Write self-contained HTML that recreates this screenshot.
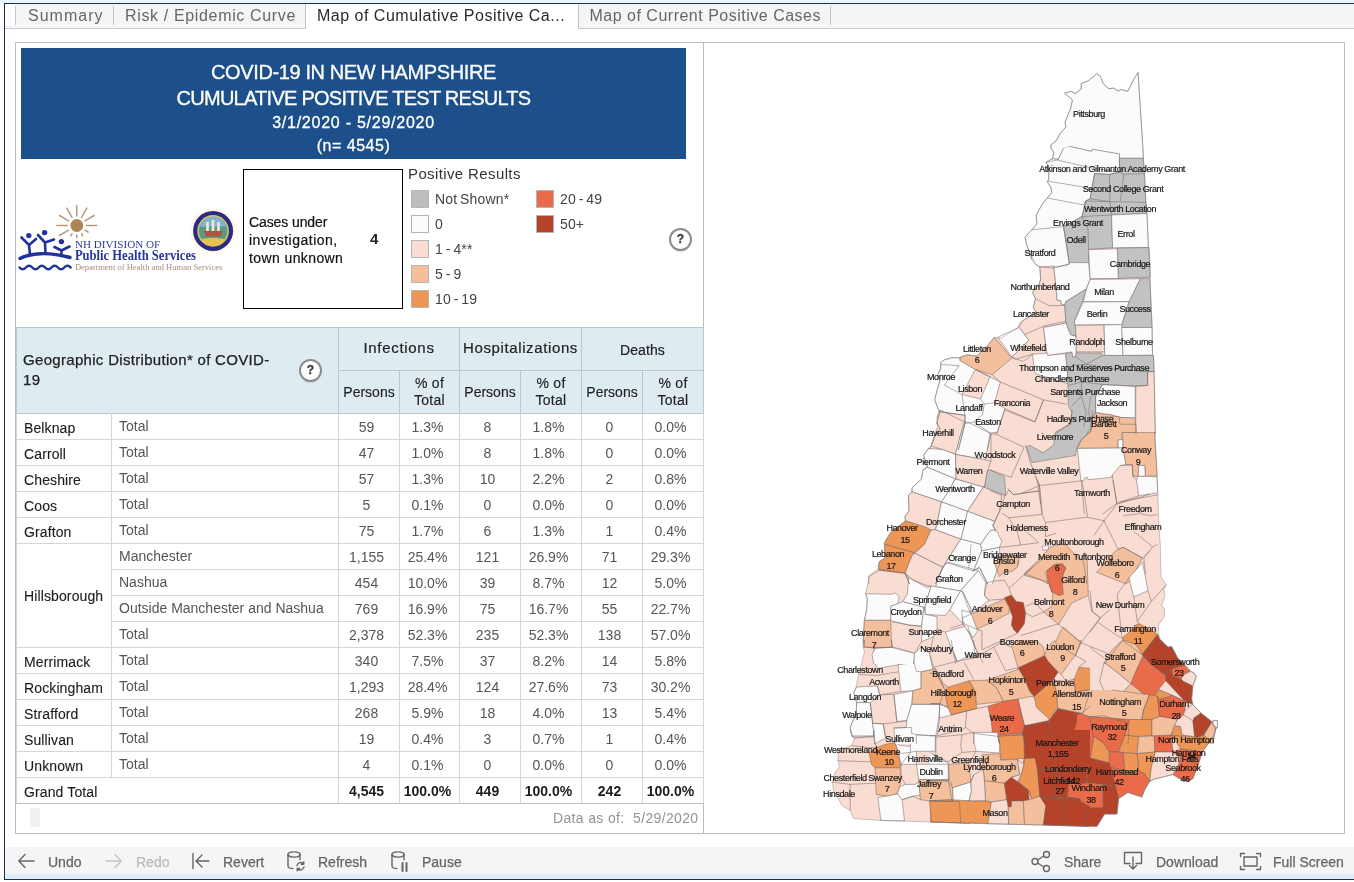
<!DOCTYPE html>
<html lang="en">
<head>
<meta charset="utf-8">
<title>COVID-19 in New Hampshire - Map of Cumulative Positive Cases</title>
<style>
*{box-sizing:border-box;margin:0;padding:0}
html,body{width:1354px;height:882px;overflow:hidden;background:#fff}
body{will-change:transform;font-family:"Liberation Sans",sans-serif;color:#333;position:relative}
.abs{position:absolute}
/* outer frame */
#frame{left:4px;top:3px;width:1360px;height:877px;border:1px solid #1f2e4f;border-right:none;background:#fff}
#topglow{left:0;top:0;width:1354px;height:3px;background:#e9f4fb}
#botglow{left:5px;top:874px;width:1349px;height:5px;background:#dbeefa}
/* tabs */
#tabbar{left:15px;top:4px;width:1339px;height:21px;background:linear-gradient(#eef4fb 0,#f5f5f5 5px)}
#tabline{left:5px;top:28px;width:1349px;height:1px;background:#c6c6c6}
#tabline2{left:5px;top:26px;width:1349px;height:1px;background:#ececec}
.tab{top:6px;height:19px;border-right:1px solid #c4c4c4;color:#666;font-size:16px;line-height:20px;white-space:nowrap}
.tab.first{border-left:1px solid #c4c4c4}
.tab.active{background:#fff;color:#2a2a2a;top:4px;height:25px;line-height:24px;border-left:1px solid #c4c4c4}
.tab span{position:absolute;top:0}
/* panels */
#leftpanel{left:15px;top:42px;width:689px;height:792px;border:1px solid #bdbdbd;background:#fff}
#mappanel{left:703px;top:42px;width:642px;height:792px;border:1px solid #bdbdbd;background:#fff}
#hdr{left:21px;top:48px;width:665px;height:111px;background:#1d4f8b;color:#fff;text-align:center;white-space:nowrap;-webkit-text-stroke:.3px #fff}
#hdr div{position:absolute;left:0;width:665px}
/* toolbar */
#toolbar{left:5px;top:847px;width:1349px;height:27px;background:#f5f5f5}
.tb{top:854px;font-size:14px;line-height:17px;color:#666;white-space:nowrap;letter-spacing:0;-webkit-text-stroke:.25px #666}
.tb.dim{color:#b9b9b9;-webkit-text-stroke:.25px #b9b9b9}
/* table */
#tbl{left:16px;top:327px;width:687px;height:477px}
.hcell{background:#deebf1;border:1px solid #b9c9d2;color:#222;text-align:center;white-space:nowrap}
.vline{width:1px;background:#d6d6d6}
.hline{height:1px;background:#d6d6d6}
.c{font-size:14px;line-height:16px;white-space:nowrap;color:#555;letter-spacing:0}
.c.k{color:#1c1c1c;-webkit-text-stroke:.12px #1c1c1c;letter-spacing:.12px}
.c.n{text-align:center;width:61px}
.c.b{color:#1c1c1c;font-weight:bold;letter-spacing:0}
.q{width:23px;height:23px;border:2px solid #8c8c8c;border-radius:50%;background:#fff;color:#3c3c3c;font-size:12px;font-weight:bold;line-height:19px;text-align:center;-webkit-text-stroke:.3px #3c3c3c;box-shadow:0 3px 2px -2px rgba(0,0,0,.12)}
.sw{width:18px;height:18px;border:1px solid #b5b5b5}
.lg{font-size:14px;line-height:16px;color:#444;white-space:nowrap;letter-spacing:.15px;word-spacing:-1.2px}
</style>
</head>
<body>
<div id="topglow" class="abs"></div>
<div id="frame" class="abs"></div>
<div id="botglow" class="abs"></div>

<!-- TABS -->
<div id="tabbar" class="abs"></div><div id="tabline2" class="abs"></div><div id="tabline" class="abs"></div>
<div class="abs tab first" style="left:15px;width:99px"><span style="left:12px;letter-spacing:1px">Summary</span></div>
<div class="abs tab" style="left:114px;width:192px"><span style="left:11px;letter-spacing:.65px">Risk / Epidemic Curve</span></div>
<div class="abs tab active" style="left:305px;width:274px"><span style="left:11px;letter-spacing:.5px">Map of Cumulative Positive Ca...</span></div>
<div class="abs tab" style="left:579px;width:252px"><span style="left:10.5px;letter-spacing:.5px">Map of Current Positive Cases</span></div>

<!-- PANELS -->
<div id="leftpanel" class="abs"></div>
<div id="mappanel" class="abs"></div>

<!-- HEADER -->
<div id="hdr" class="abs">
  <div style="top:12px;font-size:20px;line-height:24px;letter-spacing:-.38px">COVID-19 IN NEW HAMPSHIRE</div>
  <div style="top:38px;font-size:20px;line-height:24px;letter-spacing:-.74px">CUMULATIVE POSITIVE TEST RESULTS</div>
  <div style="top:65px;font-size:16px;line-height:20px;letter-spacing:.75px">3/1/2020 - 5/29/2020</div>
  <div style="top:88px;font-size:16px;line-height:20px;letter-spacing:.5px">(n= 4545)</div>
</div>

<!--LOGO-->
<svg class="abs" style="left:0;top:0" width="260" height="320" viewBox="0 0 260 320">
<g stroke="#b99a78" stroke-width="1.5" stroke-linecap="round"><path d="M86.3 225.5L96.8 225.5M85.0 220.8L94.1 215.5M81.5 217.3L86.8 208.2M76.8 216.0L76.8 205.5M72.0 217.3L66.8 208.2M68.6 220.8L59.5 215.5M67.3 225.5L56.8 225.5M68.6 230.2L59.5 235.5M72.0 233.7L70.8 235.9M76.8 235.0L76.8 237.5M81.5 233.7L82.8 235.9M85.0 230.2L88.1 232.0"/></g>
<circle cx="76.8" cy="225.5" r="6.4" fill="#ad8456"/>
<g fill="#22339a" stroke="none"><circle cx="28.8" cy="235.6" r="2.7"/><circle cx="44.6" cy="232.6" r="2.7"/><circle cx="61.4" cy="241.6" r="2.7"/></g>
<g fill="none" stroke="#22339a" stroke-width="2.6" stroke-linecap="round" stroke-linejoin="round">
<path d="M21.5 237.5L29 245L36 239M29 245L30 255"/>
<path d="M38 235L45 242.5L54 239.5M45 242.5L45.5 253"/>
<path d="M54.5 247L61.5 250.5L69.5 246.5M61.5 250.5L61.2 256"/>
<path d="M20 258.5C30 253 48 251.5 70 257.5" stroke-width="3.4"/>
<path d="M19.5 267.5q3.2 3.6 6.4 0t6.4 0t6.4 0t6.4 0t6.4 0t6.4 0t6.4 0t6.4 0" stroke-width="2.4"/>
</g>
<g font-family="Liberation Serif, serif">
<text x="74.9" y="247.6" font-size="10.5" fill="#2c3b9c" textLength="85.4" lengthAdjust="spacingAndGlyphs">NH DIVISION OF</text>
<text x="74.9" y="260" font-size="14" font-weight="bold" fill="#27379a" textLength="121" lengthAdjust="spacingAndGlyphs">Public Health Services</text>
<text x="74.9" y="270.4" font-size="7.5" fill="#ad8b78" textLength="147.5" lengthAdjust="spacingAndGlyphs">Department of Health and Human Services</text>
</g>
<circle cx="213.1" cy="230.9" r="22.5" fill="#fff8e4"/>
<circle cx="213.1" cy="230.9" r="20" fill="#2b2a86"/>
<circle cx="213.1" cy="230.9" r="15.8" fill="#d8c36a"/>
<circle cx="213.1" cy="230.9" r="14.2" fill="#5a9b86"/>
<path d="M199.5 226.5a14.2 14.2 0 0 1 27.2 0z" fill="#7fb6c9"/>
<path d="M203.5 231h19.5l-2.5 5.5h-14z" fill="#b5523a"/>
<path d="M207.5 222v9M213 220v11M218.5 222v9" stroke="#f1eadb" stroke-width="2.6" fill="none"/>
<path d="M201 239.5c4-2 20-2 24.2 0a14.2 14.2 0 0 1-24.2 0z" fill="#e6c34f"/>
</svg>
<!--/LOGO-->
<!--CASEBOX-->
<div class="abs" style="left:243px;top:169px;width:160px;height:140px;border:1px solid #000;background:#fff"></div>
<div class="abs" style="left:249px;top:213px;font-size:14px;line-height:18px;color:#111;white-space:nowrap;-webkit-text-stroke:.2px #111"><span style="letter-spacing:-.1px">Cases under</span><br><span style="letter-spacing:.5px">investigation,</span><br><span style="letter-spacing:.4px">town unknown</span></div>
<div class="abs" style="left:370px;top:230px;font-size:15px;line-height:18px;font-weight:bold;color:#222">4</div>
<!--/CASEBOX-->
<!--LEGEND-->
<div class="abs" style="left:408px;top:165px;font-size:15px;line-height:18px;color:#333;letter-spacing:.38px;white-space:nowrap">Positive Results</div>
<div class="abs sw" style="left:411px;top:190px;background:#bdbdbd"></div><div class="abs lg" style="left:435px;top:191px">Not Shown*</div>
<div class="abs sw" style="left:411px;top:215px;background:#fbfbfb"></div><div class="abs lg" style="left:435px;top:216px">0</div>
<div class="abs sw" style="left:411px;top:240px;background:#f9dcd2"></div><div class="abs lg" style="left:435px;top:241px">1 - 4**</div>
<div class="abs sw" style="left:411px;top:265px;background:#f3bf9d"></div><div class="abs lg" style="left:435px;top:266px">5 - 9</div>
<div class="abs sw" style="left:411px;top:290px;background:#ee9655"></div><div class="abs lg" style="left:435px;top:291px">10 - 19</div>
<div class="abs sw" style="left:536px;top:190px;background:#e96b49"></div><div class="abs lg" style="left:560px;top:191px">20 - 49</div>
<div class="abs sw" style="left:536px;top:215px;background:#b4432a"></div><div class="abs lg" style="left:560px;top:216px">50+</div>
<div class="abs q" style="left:669px;top:228px">?</div>
<!--/LEGEND-->
<!--TABLE-->
<div class="abs hcell" style="left:16px;top:327px;width:323px;height:87px;font-size:15px;"><div class="abs" style="left:6px;top:22px;text-align:left;line-height:20px;letter-spacing:.31px;-webkit-text-stroke:.25px #222">Geographic Distribution* of COVID-<br>19</div></div>
<div class="abs q" style="left:299px;top:359px">?</div>
<div class="abs hcell" style="left:338px;top:327px;width:122px;height:44px;font-size:15px;"><div class="abs" style="left:0;width:100%;top:11px;line-height:18px;letter-spacing:.7px;-webkit-text-stroke:.2px #222">Infections</div></div>
<div class="abs hcell" style="left:459px;top:327px;width:123px;height:44px;font-size:15px;"><div class="abs" style="left:0;width:100%;top:11px;line-height:18px;letter-spacing:.62px;-webkit-text-stroke:.2px #222">Hospitalizations</div></div>
<div class="abs hcell" style="left:581px;top:327px;width:123px;height:44px;font-size:14px;"><div class="abs" style="left:0;width:100%;top:13px;line-height:18px;letter-spacing:.1px;-webkit-text-stroke:.2px #222">Deaths</div></div>
<div class="abs hcell" style="left:338px;top:370px;width:62px;height:44px;font-size:14px;"><div class="abs" style="left:0;width:100%;top:12px;line-height:18px;-webkit-text-stroke:.15px #222">Persons</div></div>
<div class="abs hcell" style="left:399px;top:370px;width:61px;height:44px;font-size:14px;"><div class="abs" style="left:0;width:100%;top:4px;line-height:17px;letter-spacing:.3px;-webkit-text-stroke:.15px #222">% of<br>Total</div></div>
<div class="abs hcell" style="left:459px;top:370px;width:62px;height:44px;font-size:14px;"><div class="abs" style="left:0;width:100%;top:12px;line-height:18px;-webkit-text-stroke:.15px #222">Persons</div></div>
<div class="abs hcell" style="left:520px;top:370px;width:62px;height:44px;font-size:14px;"><div class="abs" style="left:0;width:100%;top:4px;line-height:17px;letter-spacing:.3px;-webkit-text-stroke:.15px #222">% of<br>Total</div></div>
<div class="abs hcell" style="left:581px;top:370px;width:62px;height:44px;font-size:14px;"><div class="abs" style="left:0;width:100%;top:12px;line-height:18px;-webkit-text-stroke:.15px #222">Persons</div></div>
<div class="abs hcell" style="left:642px;top:370px;width:62px;height:44px;font-size:14px;"><div class="abs" style="left:0;width:100%;top:4px;line-height:17px;letter-spacing:.3px;-webkit-text-stroke:.15px #222">% of<br>Total</div></div>
<div class="abs vline" style="left:16px;top:413px;height:391px"></div>
<div class="abs vline" style="left:111px;top:413px;height:364px"></div>
<div class="abs vline" style="left:338px;top:413px;height:391px"></div>
<div class="abs vline" style="left:399px;top:413px;height:391px"></div>
<div class="abs vline" style="left:459px;top:413px;height:391px"></div>
<div class="abs vline" style="left:520px;top:413px;height:391px"></div>
<div class="abs vline" style="left:581px;top:413px;height:391px"></div>
<div class="abs vline" style="left:642px;top:413px;height:391px"></div>
<div class="abs vline" style="left:703px;top:413px;height:391px"></div>
<div class="abs hline" style="left:16px;top:439px;width:688px;background:#d6d6d6"></div>
<div class="abs hline" style="left:16px;top:465px;width:688px;background:#d6d6d6"></div>
<div class="abs hline" style="left:16px;top:491px;width:688px;background:#d6d6d6"></div>
<div class="abs hline" style="left:16px;top:517px;width:688px;background:#d6d6d6"></div>
<div class="abs hline" style="left:16px;top:543px;width:688px;background:#d6d6d6"></div>
<div class="abs hline" style="left:111px;top:569px;width:593px"></div>
<div class="abs hline" style="left:111px;top:595px;width:593px"></div>
<div class="abs hline" style="left:111px;top:621px;width:593px"></div>
<div class="abs hline" style="left:16px;top:647px;width:688px;background:#d6d6d6"></div>
<div class="abs hline" style="left:16px;top:673px;width:688px;background:#d6d6d6"></div>
<div class="abs hline" style="left:16px;top:699px;width:688px;background:#d6d6d6"></div>
<div class="abs hline" style="left:16px;top:725px;width:688px;background:#d6d6d6"></div>
<div class="abs hline" style="left:16px;top:751px;width:688px;background:#d6d6d6"></div>
<div class="abs hline" style="left:16px;top:777px;width:688px;background:#d6d6d6"></div>
<div class="abs hline" style="left:16px;top:803px;width:688px;background:#bdbdbd"></div>
<div class="abs c k" style="left:24px;top:420px">Belknap</div>
<div class="abs c" style="left:119px;top:418px">Total</div>
<div class="abs c n" style="left:336px;top:419px">59</div>
<div class="abs c n" style="left:397px;top:419px">1.3%</div>
<div class="abs c n" style="left:457px;top:419px">8</div>
<div class="abs c n" style="left:518px;top:419px">1.8%</div>
<div class="abs c n" style="left:579px;top:419px">0</div>
<div class="abs c n" style="left:640px;top:419px">0.0%</div>
<div class="abs c k" style="left:24px;top:446px">Carroll</div>
<div class="abs c" style="left:119px;top:444px">Total</div>
<div class="abs c n" style="left:336px;top:445px">47</div>
<div class="abs c n" style="left:397px;top:445px">1.0%</div>
<div class="abs c n" style="left:457px;top:445px">8</div>
<div class="abs c n" style="left:518px;top:445px">1.8%</div>
<div class="abs c n" style="left:579px;top:445px">0</div>
<div class="abs c n" style="left:640px;top:445px">0.0%</div>
<div class="abs c k" style="left:24px;top:472px">Cheshire</div>
<div class="abs c" style="left:119px;top:470px">Total</div>
<div class="abs c n" style="left:336px;top:471px">57</div>
<div class="abs c n" style="left:397px;top:471px">1.3%</div>
<div class="abs c n" style="left:457px;top:471px">10</div>
<div class="abs c n" style="left:518px;top:471px">2.2%</div>
<div class="abs c n" style="left:579px;top:471px">2</div>
<div class="abs c n" style="left:640px;top:471px">0.8%</div>
<div class="abs c k" style="left:24px;top:498px">Coos</div>
<div class="abs c" style="left:119px;top:496px">Total</div>
<div class="abs c n" style="left:336px;top:497px">5</div>
<div class="abs c n" style="left:397px;top:497px">0.1%</div>
<div class="abs c n" style="left:457px;top:497px">0</div>
<div class="abs c n" style="left:518px;top:497px">0.0%</div>
<div class="abs c n" style="left:579px;top:497px">0</div>
<div class="abs c n" style="left:640px;top:497px">0.0%</div>
<div class="abs c k" style="left:24px;top:524px">Grafton</div>
<div class="abs c" style="left:119px;top:522px">Total</div>
<div class="abs c n" style="left:336px;top:523px">75</div>
<div class="abs c n" style="left:397px;top:523px">1.7%</div>
<div class="abs c n" style="left:457px;top:523px">6</div>
<div class="abs c n" style="left:518px;top:523px">1.3%</div>
<div class="abs c n" style="left:579px;top:523px">1</div>
<div class="abs c n" style="left:640px;top:523px">0.4%</div>
<div class="abs c" style="left:119px;top:548px">Manchester</div>
<div class="abs c n" style="left:336px;top:549px">1,155</div>
<div class="abs c n" style="left:397px;top:549px">25.4%</div>
<div class="abs c n" style="left:457px;top:549px">121</div>
<div class="abs c n" style="left:518px;top:549px">26.9%</div>
<div class="abs c n" style="left:579px;top:549px">71</div>
<div class="abs c n" style="left:640px;top:549px">29.3%</div>
<div class="abs c" style="left:119px;top:574px">Nashua</div>
<div class="abs c n" style="left:336px;top:575px">454</div>
<div class="abs c n" style="left:397px;top:575px">10.0%</div>
<div class="abs c n" style="left:457px;top:575px">39</div>
<div class="abs c n" style="left:518px;top:575px">8.7%</div>
<div class="abs c n" style="left:579px;top:575px">12</div>
<div class="abs c n" style="left:640px;top:575px">5.0%</div>
<div class="abs c" style="left:119px;top:600px">Outside Manchester and Nashua</div>
<div class="abs c n" style="left:336px;top:601px">769</div>
<div class="abs c n" style="left:397px;top:601px">16.9%</div>
<div class="abs c n" style="left:457px;top:601px">75</div>
<div class="abs c n" style="left:518px;top:601px">16.7%</div>
<div class="abs c n" style="left:579px;top:601px">55</div>
<div class="abs c n" style="left:640px;top:601px">22.7%</div>
<div class="abs c" style="left:119px;top:626px">Total</div>
<div class="abs c n" style="left:336px;top:627px">2,378</div>
<div class="abs c n" style="left:397px;top:627px">52.3%</div>
<div class="abs c n" style="left:457px;top:627px">235</div>
<div class="abs c n" style="left:518px;top:627px">52.3%</div>
<div class="abs c n" style="left:579px;top:627px">138</div>
<div class="abs c n" style="left:640px;top:627px">57.0%</div>
<div class="abs c k" style="left:24px;top:654px">Merrimack</div>
<div class="abs c" style="left:119px;top:652px">Total</div>
<div class="abs c n" style="left:336px;top:653px">340</div>
<div class="abs c n" style="left:397px;top:653px">7.5%</div>
<div class="abs c n" style="left:457px;top:653px">37</div>
<div class="abs c n" style="left:518px;top:653px">8.2%</div>
<div class="abs c n" style="left:579px;top:653px">14</div>
<div class="abs c n" style="left:640px;top:653px">5.8%</div>
<div class="abs c k" style="left:24px;top:680px">Rockingham</div>
<div class="abs c" style="left:119px;top:678px">Total</div>
<div class="abs c n" style="left:336px;top:679px">1,293</div>
<div class="abs c n" style="left:397px;top:679px">28.4%</div>
<div class="abs c n" style="left:457px;top:679px">124</div>
<div class="abs c n" style="left:518px;top:679px">27.6%</div>
<div class="abs c n" style="left:579px;top:679px">73</div>
<div class="abs c n" style="left:640px;top:679px">30.2%</div>
<div class="abs c k" style="left:24px;top:706px">Strafford</div>
<div class="abs c" style="left:119px;top:704px">Total</div>
<div class="abs c n" style="left:336px;top:705px">268</div>
<div class="abs c n" style="left:397px;top:705px">5.9%</div>
<div class="abs c n" style="left:457px;top:705px">18</div>
<div class="abs c n" style="left:518px;top:705px">4.0%</div>
<div class="abs c n" style="left:579px;top:705px">13</div>
<div class="abs c n" style="left:640px;top:705px">5.4%</div>
<div class="abs c k" style="left:24px;top:732px">Sullivan</div>
<div class="abs c" style="left:119px;top:730px">Total</div>
<div class="abs c n" style="left:336px;top:731px">19</div>
<div class="abs c n" style="left:397px;top:731px">0.4%</div>
<div class="abs c n" style="left:457px;top:731px">3</div>
<div class="abs c n" style="left:518px;top:731px">0.7%</div>
<div class="abs c n" style="left:579px;top:731px">1</div>
<div class="abs c n" style="left:640px;top:731px">0.4%</div>
<div class="abs c k" style="left:24px;top:758px">Unknown</div>
<div class="abs c" style="left:119px;top:756px">Total</div>
<div class="abs c n" style="left:336px;top:757px">4</div>
<div class="abs c n" style="left:397px;top:757px">0.1%</div>
<div class="abs c n" style="left:457px;top:757px">0</div>
<div class="abs c n" style="left:518px;top:757px">0.0%</div>
<div class="abs c n" style="left:579px;top:757px">0</div>
<div class="abs c n" style="left:640px;top:757px">0.0%</div>
<div class="abs c k" style="left:24px;top:784px">Grand Total</div>
<div class="abs c n b" style="left:336px;top:783px">4,545</div>
<div class="abs c n b" style="left:397px;top:783px">100.0%</div>
<div class="abs c n b" style="left:457px;top:783px">449</div>
<div class="abs c n b" style="left:518px;top:783px">100.0%</div>
<div class="abs c n b" style="left:579px;top:783px">242</div>
<div class="abs c n b" style="left:640px;top:783px">100.0%</div>
<div class="abs c k" style="left:24px;top:588px">Hillsborough</div>
<div class="abs" style="left:553px;top:810px;font-size:14px;line-height:16px;color:#949494;letter-spacing:.35px;white-space:nowrap">Data as of:&nbsp; 5/29/2020</div>
<div class="abs" style="left:30px;top:808px;width:10px;height:19px;background:#f1f1f1"></div>
<!--/TABLE-->
<!--MAP-->
<svg class="abs" style="left:0;top:0" width="1354" height="882" viewBox="0 0 1354 882">
<g stroke="#6e6464" stroke-opacity=".5" stroke-width="1" stroke-linejoin="round">
<polygon points="1138.1,72.6 1143.3,154.5 1143.3,158.4 1144.5,173.6 1145.9,202.4 1147,213.5 1148.4,247.5 1150.4,277 1149.9,278.1 1152.1,327.5 1152.5,355.2 1153.5,355.4 1154.1,371.4 1155.3,434 1154.7,432.5 1157.1,476.2 1157.7,492.7 1157.9,496 1159.1,529.1 1160.3,545.6 1160.9,574 1161.5,577.7 1166.2,584.8 1163.9,589.5 1165,595.5 1161.5,606.1 1164.4,608.4 1164.4,616.7 1158.5,625 1158.5,633.3 1160.9,641.5 1168,647.4 1171.5,646.9 1175.1,653.4 1177.4,658.1 1177.4,657.7 1184.5,664.8 1190.4,670.7 1194,673.1 1196.4,676.6 1192.8,686.1 1191.6,699.1 1192.8,704.4 1201.1,713.3 1211.7,721.5 1217,720.4 1217.6,727.4 1215.3,729.8 1216.3,727.2 1214.7,733.4 1210.1,741.2 1202.3,752 1198.4,764.4 1193,778.4 1188.4,781.5 1179.1,778.4 1172.9,774.5 1154.2,779.2 1149.6,781.5 1144.9,789.3 1141.8,797 1127.9,792.4 1118.6,798.6 1117,814.1 1104.6,814.1 1096.9,826.5 1043.4,825.1 989.1,823.9 960.7,822.8 931.7,822.2 904.5,821 880.9,820.4 853.7,818.6 850.2,810.4 841.9,805.6 838.4,798.5 833.6,791.4 832.5,782 834.8,772.5 839.5,766.6 837.8,760.7 838.4,750.1 851.4,745.4 854.9,738.3 851.9,735.9 850.2,730 850.2,727.4 856.1,713.3 856.7,702.6 853.7,693.2 856.1,687.3 858.4,674.3 862,662.5 864.4,651.8 863.2,647.1 864.4,640 863.1,642.7 863.7,630.9 864.3,620.3 866.7,609.6 867.3,599 865.5,593.7 867.9,583.6 869.6,575.4 878.5,568.3 879.5,570.4 878.3,566.3 879.5,561.5 884.8,558 884.2,543.2 890.1,533.2 905.5,520.8 904.9,516.6 909,510.7 908.4,495.4 912,491.8 912,488.3 911.8,488 921.3,479.2 923,469.7 927.2,467.4 923.6,455.5 928.4,448.4 931.3,446.1 934.3,437.8 940.2,428.4 936.6,423.6 939,415.4 940.2,410 939.1,411.6 934.7,399.8 936.9,390.9 939.9,380.6 937.7,374.7 940.6,368.7 940.6,362.8 944.3,359.9 951.7,357.7 959.8,357.7 967.2,354.7 976.8,356.2 988.6,344.4 994.5,337 1000.4,338.5 1018.2,327.4 1019.9,322.4 1024.3,319.4 1036.1,312 1033.2,307.6 1035.4,298.7 1032.4,292.1 1038.3,286.2 1040.6,279.5 1039.8,267 1036.1,264.8 1031.7,255.9 1031.8,259.3 1026.6,244.5 1025.1,237.1 1031.8,229.8 1036.9,223.9 1036.2,215 1042.8,203.2 1047.3,198 1051.7,192.8 1051,187.7 1047.3,181.8 1048.7,179.5 1048.7,166.2 1045.8,162.6 1051.7,158.9 1052.4,159 1053.9,152.3 1051,148.6 1051,144.9 1056.9,139.8 1059.8,133.9 1065.7,127.2 1065,122 1070.6,108.7 1072.4,99.9 1064.7,93.2 1070.9,91.3 1075.3,93.7 1081.2,88.8 1081.2,83.6 1088.6,80.7 1096.8,73.6 1100.4,76.2 1103.4,83.6 1108.6,88.8 1113.7,88.1 1118.2,91 1121.1,89.5 1127.8,91.3 1133.7,79.2" fill="#f9dcd2" stroke="none"/>
<polygon points="1138.1,72.6 1133.7,79.2 1127.8,91.3 1121.1,89.5 1118.2,91 1113.7,88.1 1108.6,88.8 1103.4,83.6 1100.4,76.2 1096.8,73.6 1088.6,80.7 1081.2,83.6 1081.2,88.8 1075.3,93.7 1070.9,91.3 1064.7,93.2 1072.4,99.9 1070.6,108.7 1065,122 1065.7,127.2 1059.8,133.9 1056.9,139.8 1051,144.9 1051,148.6 1053.9,152.3 1052.4,159 1058.3,159.3 1063.5,148.6 1069.4,146.4 1091.6,151.6 1092.3,149.4 1119.6,154.1 1119.4,158.2 1143.3,158.2 1143.3,154.5" fill="#fbfbfb"/>
<polygon points="1052.4,158.9 1058.3,159.2 1063.5,148.5 1069.4,146.3 1091.6,151.5 1092.3,149.3 1119.6,154 1119.4,158.4 1119.6,172.2 1109.3,174.4 1094.5,173.6 1090.1,198.7 1085.7,201 1082,216.5 1063.5,226.8 1069.4,263.7 1053.9,268.2 1039.9,266.7 1035.5,264.5 1031.8,259.3 1026.6,244.5 1025.1,237.1 1031.8,229.8 1036.9,223.9 1036.2,215 1042.8,203.2 1047.3,198 1051.7,192.8 1051,187.7 1047.3,181.8 1048.7,179.5 1048.7,166.2 1045.8,162.6 1051.7,158.9" fill="#fbfbfb" stroke="none"/>
<polygon points="1119.4,158.4 1143.3,158.4 1144.5,173.6 1145.9,202.4 1147,213.5 1111.5,215 1112.6,247.8 1088.6,249.3 1088.6,262.6 1069.4,263.7 1063.5,226.8 1082,216.5 1085.7,201 1090.1,198.7 1094.5,173.6 1109.3,174.4 1119.6,172.2" fill="#c2c2c2"/>
<polygon points="1111.5,215 1147,213.5 1148.4,247.5 1112.6,247.8" fill="#fbfbfb"/>
<polygon points="1117.4,248.2 1149.2,247.5 1150.4,277 1118.2,278.5" fill="#c2c2c2"/>
<polygon points="1088.6,249.7 1117.4,248.7 1118.2,278.5 1090.1,278.5" fill="#fbfbfb"/>
<polygon points="1039.8,267 1053.6,266 1055.3,279.5 1057.1,300.2 1060.9,300.5 1061.5,304.4 1064.9,304.9 1065.7,320.9 1066.4,323.1 1043.5,327.5 1047.2,355.6 1032.4,354.1 1015.5,359.3 1011.8,357.1 1028.7,340.1 1019.1,327.5 1022.8,320.9 1036.1,312 1033.2,307.6 1035.4,298.7 1032.4,292.1 1038.3,286.2 1040.6,279.5" fill="#f9dcd2"/>
<polygon points="1019.1,327.5 1028.7,340.1 1011.8,357.1 997.7,337.1" fill="#fbfbfb"/>
<polygon points="1055.3,267 1068.6,264.8 1069.4,262.6 1088.6,262.6 1090,279.5 1086.4,288.7 1065.7,301.7 1064.9,304.9 1061.5,304.4 1060.9,300.5 1057.1,300.2 1055.3,279.5 1053.6,266" fill="#fbfbfb"/>
<polygon points="1065.7,301.7 1086.4,289.1 1083.4,298.7 1074.5,320.9 1075.3,325.3 1076,336.4 1070.8,334.9 1067.1,326.8 1065.7,320.9 1064.9,304.9" fill="#c2c2c2"/>
<polygon points="1090,279.5 1140.3,278.8 1129.2,301.7 1083.4,301.7 1086.4,289.1" fill="#fbfbfb"/>
<polygon points="1083.4,302 1129.2,301.7 1121.8,324.6 1074.5,325 1074.5,320.9" fill="#fbfbfb"/>
<polygon points="1140.3,278.8 1149.9,278.1 1152.1,327.5 1121.8,327.5 1121.8,324.6 1129.2,301.7" fill="#c2c2c2"/>
<polygon points="1075.3,325.3 1104.1,325 1104.8,351.9 1076,351.9 1076,336.4" fill="#f9dcd2"/>
<polygon points="1104.1,325 1121.8,324.6 1123,355.6 1104.8,355.6" fill="#fbfbfb"/>
<polygon points="1121.8,327.5 1152.1,327.5 1152.5,355.2 1123,355.6" fill="#fbfbfb"/>
<polygon points="1043.5,327.5 1066.4,323.1 1067.1,326.8 1070.8,334.9 1076,336.4 1076,357.1 1072.3,357.1 1071.6,351.9 1047.2,355.6" fill="#fbfbfb"/>
<polygon points="994.5,337 1009.3,355.5 1012.3,357.7 992.3,374.7 975.3,369.5 959.8,360.6 960.6,356.9 967.2,354.7 976.8,356.2 988.6,344.4" fill="#f3bf9d"/>
<polygon points="959.8,357.7 959.8,360.6 975.3,369.5 990.1,376.9 1000.4,382 994.5,402.7 1004.9,408.6 997.5,432.3 990.1,433 987.1,450 958.3,450 965,423.4 965,415.3 939.1,411.6 934.7,399.8 936.9,390.9 939.9,380.6 937.7,374.7 940.6,368.7 940.6,362.8 944.3,359.9 951.7,357.7" fill="#fbfbfb" stroke="none"/>
<polygon points="975.3,369.5 990.1,376.9 980.5,399 962,394.6" fill="#f9dcd2"/>
<polygon points="939.1,411.6 965,415.3 965,423.4 958.3,450 929.5,450 934,436.7 937.7,426.4 936.9,417.5" fill="#f9dcd2" stroke="none"/>
<polygon points="1032.4,354.2 1047.2,353 1047.8,355.4 1065.5,353.6 1067.3,369 1067.9,383.8 1035.4,373.7 1033.6,364.3" fill="#fbfbfb"/>
<polygon points="1065.5,353.6 1072,352.5 1072.6,357.2 1075.5,356.6 1076.1,353 1101.5,353 1102.1,355.4 1153.5,355.4 1154.1,371.4 1147.6,371.9 1147.6,385.5 1135.2,386.1 1102.7,384.4 1095.6,396.2 1095.6,412.7 1090.9,419.8 1090.9,428.1 1086.2,434 1055.5,434 1069.6,423.4 1072,412.7 1068.4,405.6 1067.9,383.8 1067.3,369" fill="#c2c2c2" stroke="none"/>
<polygon points="1102.7,384.6 1135.2,386.4 1135.2,418 1119.3,417.4 1112.2,415.1 1095.6,412.7 1095.6,396.2" fill="#fbfbfb"/>
<polygon points="1090.9,428.1 1090.9,419.8 1095.6,412.7 1112.2,415.1 1119.3,417.4 1135.2,418 1135.8,431.6 1088.5,432.2" fill="#f3bf9d"/>
<polygon points="1135.8,386.1 1147.6,385.5 1147.6,371.9 1154.1,371.4 1155.3,434 1135.8,434" fill="#f9dcd2" stroke="none"/>
<polygon points="1072,410 1092.1,410 1092.1,417.1 1090.9,431.3 1081.4,439.5 1076.7,448.4 1075.5,455.5 1031.8,462.6 1026.5,446.6 1030,445.5 1043,452.8 1053.7,444.9 1055.5,431.9 1070.8,424.2" fill="#c2c2c2" stroke="none"/>
<polygon points="1092.1,417.1 1119.3,416.5 1119.9,424.2 1135.8,424.2 1136.4,432.5 1122.2,432.5 1121.6,439.5 1118.1,440.1 1118.1,448.1 1077.3,448.4 1081.4,439.5 1090.9,431.3" fill="#f3bf9d"/>
<polygon points="1122.2,432.5 1154.7,432.5 1157.1,476.2 1145.3,476.2 1144.7,465.5 1138.8,465.5 1138.2,476.2 1132.9,476.4 1132.3,464.9 1125.8,464.6 1122.8,447.8 1122.8,439.5" fill="#f3bf9d"/>
<polygon points="1118.1,440.1 1122.8,439.5 1122.8,447.8 1118.1,448.1" fill="#fbfbfb"/>
<polygon points="1077.3,448.4 1118.1,448.1 1122.8,447.8 1125.8,464.6 1120.4,465.5 1112.2,475 1111.6,477.4 1087.9,479.7 1087.4,477.4 1084.4,477.9 1083.8,480.9 1080.9,480.9" fill="#fbfbfb"/>
<polygon points="1136.4,479.7 1138.2,476.2 1145.3,476.2 1157.1,476.8 1157.7,492.7 1138.8,495.7" fill="#fbfbfb"/>
<polygon points="1138.8,465.5 1144.7,465.5 1145.3,476.2 1138.2,476.2" fill="#fbfbfb"/>
<polygon points="940.2,410 964.4,421.9 959.1,440.2 955.5,454.4 943.1,449.6 931.3,446.1 934.3,437.8 940.2,428.4 936.6,423.6 939,415.4" fill="#f9dcd2"/>
<polygon points="964.4,421.9 969.7,423 991,433.7 988,447.3 985.1,459.7 955.5,454.4 959.1,440.2" fill="#fbfbfb"/>
<polygon points="928.4,448.4 943.1,449.6 955.5,454.4 956.1,479.2 927.8,467.4 923.6,455.5" fill="#fbfbfb"/>
<polygon points="955.5,454.4 985.1,459.7 991,461.4 987.4,470.9 984.5,487.4 956.1,479.2" fill="#f9dcd2"/>
<polygon points="989.8,469.7 1004.6,476.8 1005.8,495.7 984.5,488 987.4,470.9" fill="#c2c2c2"/>
<polygon points="927.8,467.4 956.1,479.2 954.5,480 949.8,489.5 942.7,500.1 941.5,501.9 912,491.8 912,488.3 911.8,488 921.3,479.2 923,469.7" fill="#fbfbfb"/>
<polygon points="956.1,479.2 984.5,487.4 983.5,487.1 967.5,511.3 941.5,501.9 942.7,500.1 949.8,489.5 954.5,480" fill="#fbfbfb"/>
<polygon points="912,491.8 941.5,501.9 938,519 935.6,529.6 930.9,530.2 905.5,520.8 904.9,516.6 909,510.7 908.4,495.4" fill="#f9dcd2"/>
<polygon points="905.5,520.8 926.2,527.3 930.9,530.2 924.4,544.4 914.4,552.7 884.8,544.4 884.2,543.2 890.1,533.2" fill="#ee9655"/>
<polygon points="884.8,544.4 914.4,552.7 912,555.6 904.9,573.4 879.5,570.4 878.3,566.3 879.5,561.5 884.8,558" fill="#ee9655"/>
<polygon points="930.9,530.2 935.6,529.6 961,539.1 959.3,541.4 942.7,567.4 914.9,553.3 924.4,544.4" fill="#f9dcd2"/>
<polygon points="914.9,553.3 942.7,567.4 935.6,584 909.6,584 904.9,573.4 912,555.6" fill="#f9dcd2" stroke="none"/>
<polygon points="941.5,501.9 967.5,511.3 964,527.3 961,539.1 935.6,529.6 938,519" fill="#fbfbfb"/>
<polygon points="983.5,487.1 1004.8,495.4 1000.6,509.5 994.7,521.4 967.5,511.3" fill="#f9dcd2"/>
<polygon points="967.5,511.3 994.7,521.4 992.3,526.1 995.9,529.6 990,530.8 980.5,544.4 961,539.1 964,527.3" fill="#fbfbfb"/>
<polygon points="990,530.8 995.9,529.6 1001.8,541.4 999.4,547.4 981.7,550.9 980.5,544.4" fill="#fbfbfb"/>
<polygon points="961,539.1 980.5,544.4 981.7,550.9 973.4,571 947.4,562.7 942.7,567.4 959.3,541.4" fill="#fbfbfb"/>
<polygon points="981.7,550.9 999.4,547.4 1000.6,562.7 997.1,569.8 992.3,584 987.6,584 979.4,567.4 973.4,571" fill="#fbfbfb" stroke="none"/>
<polygon points="942.7,567.4 947.4,562.7 973.4,571 979.4,567.4 987.6,584 935.6,584" fill="#fbfbfb" stroke="none"/>
<polygon points="993.5,556.8 1019.5,555.6 1018.3,565.1 1012.4,571 1004.2,569.8 999.4,574.5 997.1,569.8 1000.6,562.7 999.4,558" fill="#f3bf9d"/>
<polygon points="868.3,576.9 879.5,570.4 904.9,573.4 909.6,584 868.9,584" fill="#f9dcd2" stroke="none"/>
<polygon points="1024.3,573.4 1038.4,560.4 1051.4,546.2 1059.7,544.4 1065.6,544.4 1072.7,552.1 1083.4,561.5 1086.9,584 1062.1,584 1063.3,574.5 1065.6,567.4 1056.2,563.9 1045.5,572.2 1047.9,584 1042,580.4" fill="#f3bf9d" stroke="none"/>
<polygon points="1115.3,550.9 1123.5,547.4 1142.4,558 1129.4,581.6 1125.9,584 1108.2,576.9 1096.4,572.2 1101.1,567.4" fill="#f3bf9d"/>
<polygon points="1042,546.2 1049.1,545.6 1047.9,549.7 1043.2,550.3" fill="#fbfbfb"/>
<polygon points="1129,577.7 1142.6,562.4 1147.9,590.7 1137.3,595.5 1133.7,596.6 1130.8,586" fill="#fbfbfb"/>
<polygon points="1121.9,638 1127.8,633.3 1137.3,623.8 1140.8,624.4 1156.2,633.3 1157.9,635.6 1143.2,654.5 1140.8,653.4 1124.3,641.5" fill="#ee9655"/>
<polygon points="1157.4,634.4 1160.9,641.5 1168,647.4 1171.5,646.9 1175.1,653.4 1177.4,658.1 1178.6,664 1151.4,664 1142,654.5" fill="#b4432a" stroke="none"/>
<polygon points="1122.5,640.4 1142,654.5 1151.4,664 1104.2,664 1112.5,653.4" fill="#f3bf9d" stroke="none"/>
<polygon points="1153.8,640 1160.9,640 1168,647.1 1171.5,646.5 1175.1,653 1177.4,657.7 1184.5,664.8 1171.5,669 1165.6,675.5 1151.4,664.8 1143.2,655.4" fill="#b4432a" stroke="none"/>
<polygon points="1171.5,669 1184.5,664.8 1190.4,671.3 1184.5,674.3 1181,679 1172.7,675.5" fill="#e96b49"/>
<polygon points="1181,679 1184.5,674.3 1190.4,671.3 1194,673.1 1196.4,676.6 1192.8,686.1 1183.4,681.4" fill="#f9dcd2"/>
<polygon points="1165.6,675.5 1171.5,669 1172.7,675.5 1181,679 1183.4,681.4 1192.8,686.1 1191.6,699.1 1192.8,704.4 1184.5,700.9 1165.6,680.8" fill="#b4432a"/>
<polygon points="1143.2,655.4 1151.4,664.8 1165.6,675.5 1165.6,680.8 1158.5,689.6 1151.4,700.3 1130.8,683.7 1134.9,673.1" fill="#e96b49"/>
<polygon points="1122.5,640 1136.1,644.7 1143.2,655.4 1134.9,673.1 1130.8,683.7 1119.5,674.3 1104.2,662.5 1112.5,649.5" fill="#f3bf9d"/>
<polygon points="1165.6,680.8 1184.5,700.9 1172.7,695.5 1158.5,689.6" fill="#f9dcd2"/>
<polygon points="1151.4,700.3 1158.5,689.6 1172.7,695.5 1160.9,699.1 1159.7,715.6 1142,718 1146.7,708.5" fill="#ee9655"/>
<polygon points="1160.9,699.1 1172.7,695.5 1184.5,700.9 1184.5,710.9 1181,719.2 1171.5,716.8 1159.7,715.6 1159.7,708.5" fill="#e96b49"/>
<polygon points="1104.2,690.8 1121.9,693.2 1130.8,683.7 1151.4,700.3 1146.7,708.5 1142,718 1130.2,719.2 1127.8,722.7 1113.6,719.2 1104.2,715.6" fill="#f3bf9d"/>
<polygon points="1104.2,662.5 1119.5,674.3 1130.8,683.7 1121.9,693.2 1104.2,690.8 1099.5,681.4" fill="#f9dcd2"/>
<polygon points="1090,716.8 1104.2,715.6 1113.6,719.2 1127.8,722.7 1129,735.7 1127.8,744 1090,744" fill="#e96b49" stroke="none"/>
<polygon points="1130.2,719.2 1142,718 1152.6,718.6 1152.6,734.5 1129,735.7 1127.8,722.7" fill="#ee9655"/>
<polygon points="1152.6,718.6 1159.7,715.6 1171.5,716.8 1181,719.2 1177.4,725.1 1170.4,733.4 1152.6,734.5" fill="#f3bf9d"/>
<polygon points="1184.5,710.9 1192.8,704.4 1201.1,713.3 1194,718 1192.8,721.5 1184.5,722.7 1181,719.2" fill="#f9dcd2"/>
<polygon points="1194,718 1201.1,713.3 1211.7,721.5 1205.8,729.8 1199.9,736.9 1196.4,734.5 1192.8,721.5" fill="#b4432a"/>
<polygon points="1212.9,720.4 1217.6,720.4 1217.6,727.4 1212.9,727.4" fill="#fbfbfb"/>
<polygon points="1205.8,729.8 1211.7,721.5 1215.3,729.8 1214.1,738.1 1212.9,744 1201.1,744 1199.9,736.9" fill="#f3bf9d" stroke="none"/>
<polygon points="1177.4,725.1 1181,719.2 1184.5,722.7 1192.8,721.5 1196.4,734.5 1182.2,735.7 1172.7,734.5" fill="#f3bf9d"/>
<polygon points="1018,667.8 1044.6,655.4 1048.2,661.3 1058.2,671.9 1052.9,680.2 1034,696.7 1029.3,690.8 1024.5,679" fill="#b4432a"/>
<polygon points="1034,696.7 1052.9,680.2 1056.4,690.8 1057.6,706.2 1049.4,720.4 1048.2,718 1036.4,707.4 1035.2,701.4" fill="#ee9655"/>
<polygon points="1074.2,679 1078.9,667.2 1090,668.4 1090,689.6 1075.3,692" fill="#ee9655" stroke="none"/>
<polygon points="1052.9,680.2 1065.9,681.4 1074.2,679 1075.3,692 1090,689.6 1090,706.2 1082.4,713.3 1057.6,708.5 1057.6,706.2 1056.4,690.8" fill="#f3bf9d" stroke="none"/>
<polygon points="1049.4,720.4 1057.6,708.5 1080.1,713.3 1076.5,725.1 1071.8,735.7 1050.5,735.7" fill="#b4432a"/>
<polygon points="986.7,680.2 1018,669.5 1018,667.8 1024.5,679 1029.3,690.8 1034,696.7 1029.3,696.7 1018,699.1 1003.3,701.4 996.2,687.3" fill="#f3bf9d"/>
<polygon points="969,680.8 986.7,680.2 996.2,687.3 1003.3,701.4 976.1,704.4 975.5,692" fill="#f3bf9d"/>
<polygon points="944.2,688.4 969,680.8 975.5,692 976.1,704.4 976.7,708.5 951.3,715 947.7,707.4" fill="#ee9655"/>
<polygon points="987.9,706.2 1003.3,701.4 1018,699.1 1021,712.1 1024.5,725.7 1022.2,733.4 992.6,735.7 991.4,722.7" fill="#e96b49"/>
<polygon points="1024.5,725.7 1049.4,720.4 1050.5,735.7 1048.2,744 1025.7,744 1022.2,733.4" fill="#b4432a" stroke="none"/>
<polygon points="997.9,736.3 1022.2,733.9 1025.7,744 999.7,744" fill="#ee9655" stroke="none"/>
<polygon points="1011.5,645.9 1017.4,640 1036.4,640 1043.4,647.1 1044.6,655.4 1018,667.8 1015.1,657.7" fill="#f3bf9d" stroke="none"/>
<polygon points="1048.2,661.3 1044.6,655.4 1047,647.1 1055.3,640 1081.3,640 1075.3,655.4 1061.2,674.3 1058.2,671.9" fill="#f3bf9d" stroke="none"/>
<polygon points="930,673.1 937.1,674.3 944.2,688.4 947.7,707.4 939.5,703.8 930,703.8" fill="#f3bf9d" stroke="none"/>
<polygon points="939.5,703.8 947.7,707.4 951.3,715 939.5,718" fill="#fbfbfb"/>
<polygon points="930,703.8 939.5,703.8 939.5,718 937.1,735.7 930,735.7" fill="#fbfbfb" stroke="none"/>
<polygon points="973.7,733.4 992.6,735.7 997.9,736.3 999.7,744 973.7,744" fill="#fbfbfb" stroke="none"/>
<polygon points="1024,725.7 1048,722.6 1049.5,725.7 1050.3,736.5 1072,735 1076.7,736.5 1076.7,758.2 1061.2,761.3 1036.4,762.9 1028.6,758.2 1027.1,735" fill="#b4432a"/>
<polygon points="1076.7,714.8 1079.8,713.3 1089.1,716.4 1093.8,736.5 1090.6,758.2 1076.7,758.2 1076.7,736.5 1072,735 1076.7,722.6" fill="#e96b49"/>
<polygon points="1089.1,716.4 1129.4,719.5 1124.8,735 1118.6,752 1109.3,752 1103.1,742.7 1093.8,736.5" fill="#e96b49"/>
<polygon points="1093.8,736.5 1103.1,742.7 1109.3,752 1109.3,762.9 1090.6,758.2" fill="#ee9655"/>
<polygon points="1118.6,752 1124.8,735 1138.7,736.5 1137.2,753.6" fill="#ee9655"/>
<polygon points="1129.4,719.5 1151.9,719.5 1151.9,735.8 1138.7,736.5 1124.8,735" fill="#ee9655"/>
<polygon points="1138.7,736.5 1154.2,735.8 1155,752 1137.2,753.6" fill="#f3bf9d"/>
<polygon points="1154.2,735.8 1171.3,735 1172.9,752 1155,752" fill="#e96b49"/>
<polygon points="1082.9,713.3 1087.5,699.3 1092.2,690 1112.4,690 1149.6,694.7 1143.4,710.2 1141.8,719.5 1129.4,719.5 1089.1,716.4 1079.8,713.3" fill="#f3bf9d" stroke="none"/>
<polygon points="1143.4,710.2 1149.6,694.7 1157.3,696.2 1159.7,716.4 1151.9,719.5 1141.8,719.5" fill="#ee9655"/>
<polygon points="1159.7,699.3 1185.3,704 1183.7,714.8 1177.5,719.5 1159.7,716.4 1157.3,696.2" fill="#e96b49"/>
<polygon points="1151.9,719.5 1159.7,716.4 1177.5,719.5 1171.3,735 1151.9,735.8" fill="#f3bf9d"/>
<polygon points="1171.3,735 1174.4,725.7 1180.6,726.4 1183.7,735 1182.2,736.5" fill="#ee9655"/>
<polygon points="1177.5,719.5 1183.7,714.8 1193,721 1194.6,736.5 1182.2,735 1180.6,726.4 1174.4,725.7" fill="#f9dcd2"/>
<polygon points="1193,721 1200.8,713.3 1211.6,722.6 1203.9,735 1196.1,738.1 1194.6,736.5" fill="#b4432a"/>
<polygon points="1203.9,735 1211.6,722.6 1216.3,727.2 1214.7,733.4 1210.1,741.2" fill="#f3bf9d"/>
<polygon points="1182.2,736.5 1194.6,736.5 1196.1,738.1 1203.9,735 1210.1,741.2 1202.3,752 1180.6,748.9 1171.3,735" fill="#ee9655"/>
<polygon points="1172.9,752 1180.6,748.9 1202.3,752 1198.4,764.4 1180.6,758.2" fill="#e96b49"/>
<polygon points="1180.6,758.2 1198.4,764.4 1193,778.4 1188.4,781.5 1179.1,778.4 1172.9,774.5 1177.5,767.5" fill="#e96b49"/>
<polygon points="1155,752 1172.9,752 1180.6,758.2 1177.5,767.5 1172.9,774.5 1154.2,779.2 1149.6,781.5 1151.1,767.5" fill="#f9dcd2"/>
<polygon points="1137.2,753.6 1155,752 1151.1,767.5 1149.6,781.5 1144.9,773.8 1138.7,770.6" fill="#ee9655"/>
<polygon points="1109.3,752 1118.6,752 1123.2,752.8 1124.8,770.6 1110.8,767.5 1109.3,762.9" fill="#e96b49"/>
<polygon points="1123.2,752.8 1137.2,753.6 1138.7,770.6 1124.8,770.6" fill="#ee9655"/>
<polygon points="1110.8,767.5 1124.8,770.6 1138.7,770.6 1144.9,773.8 1149.6,781.5 1144.9,789.3 1141.8,797 1127.9,792.4 1118.6,798.6 1115.5,786.2" fill="#e96b49"/>
<polygon points="1087.5,761.3 1090.6,758.2 1109.3,762.9 1110.8,767.5 1115.5,786.2 1103.1,784.6 1087.5,783.1 1086,770.6" fill="#b4432a"/>
<polygon points="1036.4,762.9 1061.2,761.3 1076.7,758.2 1090.6,758.2 1087.5,761.3 1086,770.6 1087.5,783.1 1078.2,784.6 1068.9,783.1 1061.2,776.9 1039.5,780" fill="#b4432a"/>
<polygon points="1039.5,780 1061.2,776.9 1068.9,783.1 1067.4,797 1056.5,798.6 1041,798.6" fill="#b4432a"/>
<polygon points="1068.9,783.1 1078.2,784.6 1087.5,783.1 1103.1,784.6 1103.1,807.9 1082.9,807.9 1079.8,798.6 1067.4,797" fill="#e96b49"/>
<polygon points="1103.1,784.6 1115.5,786.2 1118.6,798.6 1117,814.1 1104.6,814.1 1096.9,826.5 1087.5,826.5 1087.5,807.9 1103.1,807.9" fill="#b4432a" stroke="none"/>
<polygon points="1041,798.6 1056.5,798.6 1067.4,797 1079.8,798.6 1082.9,807.9 1087.5,807.9 1087.5,826.5 1044.1,824.9 1047.2,807.9" fill="#b4432a"/>
<polygon points="1024,758.2 1028.6,758.2 1036.4,762.9 1039.5,780 1041,798.6 1031.7,798.6 1020.9,780" fill="#ee9655"/>
<polygon points="997.9,735.9 1023.9,735.3 1024.5,758.4 1000.9,760.1 999.7,745.4" fill="#ee9655"/>
<polygon points="973.7,732.4 997.4,732.4 999.7,745.4 999.1,753 976.1,751.3 974.3,744.2" fill="#fbfbfb"/>
<polygon points="1024.5,758.4 1035.2,757.8 1037.5,769 1039.9,796.2 1031.6,799.7 1029.3,790.3 1017.4,782 1021,774.9 1023.9,764.3" fill="#ee9655"/>
<polygon points="1023.9,730 1090,730 1090,769 1037.5,769 1035.2,757.8 1024.5,758.4 1023.9,735.3" fill="#b4432a" stroke="none"/>
<polygon points="982,754.8 999.7,753.6 1000.9,760.1 1017.4,759.5 1019.8,774.9 1011.5,777.3 1004.4,783.2 984.4,780.8 983.2,769" fill="#f3bf9d"/>
<polygon points="948.3,764.3 969,763.1 970.8,782 952.5,787.9 948.9,777.3" fill="#f3bf9d"/>
<polygon points="984.4,780.8 1004.4,783.2 1006.8,799.7 991.4,802.1 985.5,800.9" fill="#f3bf9d"/>
<polygon points="1004.4,783.2 1011.5,777.3 1019.8,783.2 1028.1,790.3 1029.3,799.7 1023.4,800.9 1011.5,800.9 1011.5,806.8 1008,806.8 1006.8,799.7" fill="#b4432a"/>
<polygon points="1011.5,777.3 1019.8,774.9 1017.4,759.5 1023.9,764.3 1021,774.9 1017.4,782 1019.8,783.2" fill="#f9dcd2"/>
<polygon points="952.5,787.9 970.8,782 971.4,791.4 969,800.9 953,801.5" fill="#fbfbfb"/>
<polygon points="970.8,782 973.7,774.9 983.2,769 984.4,780.8 985.5,800.9 969,800.9 971.4,791.4" fill="#f9dcd2"/>
<polygon points="930,780.8 947.7,780.8 952.5,787.9 953,801.5 930,800.9" fill="#f3bf9d" stroke="none"/>
<polygon points="930,800.9 959.5,801.5 960.7,822.8 930,821.9" fill="#ee9655" stroke="none"/>
<polygon points="959.5,801.5 985.5,800.9 991.4,802.1 987.9,823.6 960.7,822.8" fill="#ee9655"/>
<polygon points="991.4,802.1 1006.8,799.7 1008,806.8 1008.6,824.2 987.9,823.6" fill="#f9dcd2"/>
<polygon points="1008.6,806.8 1011.5,806.8 1011.5,800.9 1023.4,800.9 1024.5,824.5 1008.6,824.2" fill="#f3bf9d"/>
<polygon points="1023.4,800.9 1029.3,799.7 1039.9,796.2 1045.8,805.6 1043.4,825.1 1024.5,824.5" fill="#f3bf9d"/>
<polygon points="1039.9,796.2 1055.3,799.7 1077.7,799.7 1090,806.8 1090,826.3 1043.4,825.1 1045.8,805.6" fill="#b4432a" stroke="none"/>
<polygon points="1037.5,769 1056.4,769 1055.3,799.7 1039.9,796.2" fill="#b4432a"/>
<polygon points="930,752.5 947.7,761.9 948.3,764.3 948.9,777.3 947.7,780.8 930,780.8" fill="#fbfbfb" stroke="none"/>
<polygon points="850.2,730 873.8,730 873.8,735.9 851.9,735.9" fill="#fbfbfb" stroke="none"/>
<polygon points="869.1,752.5 876.2,747.7 885.6,744.2 895.1,742.4 897.4,748.9 901,764.3 899.8,767.8 875,767.8 871.4,764.3" fill="#ee9655"/>
<polygon points="875,767.8 899.8,767.8 901,777.3 899.8,786.7 897.4,793.8 886.8,796.2 876.2,794.4 875.6,783.2" fill="#f3bf9d"/>
<polygon points="895.1,742.4 899.8,745.4 910.4,746.5 910.4,734.7 935.3,735.9 935.3,751.3 916.4,751.3 916.4,764.3 948.3,764.3 948.3,779.6 918.7,779.6 916.4,764.3 901,764.3 897.4,748.9" fill="#fbfbfb"/>
<polygon points="918.7,779.6 948.3,779.6 951.8,799.7 929.4,800.9 920.5,799.7 919.9,795" fill="#f3bf9d"/>
<polygon points="877.9,797.4 886.8,796.2 897.4,793.8 902.2,799.7 904.5,821 880.9,820.4" fill="#fbfbfb"/>
<polygon points="899.8,786.7 905.7,784.4 915.2,784.4 918.7,782 919.9,795 912.8,796.2 902.2,799.7 897.4,793.8" fill="#fbfbfb"/>
<polygon points="929.4,800.9 951.8,799.7 970,800.9 970,823.4 931.7,822.2" fill="#ee9655" stroke="none"/>
<polygon points="864.4,640 891.5,640 892.7,647.1 873.8,648.3 864.4,646.5" fill="#f3bf9d" stroke="none"/>
<polygon points="873.8,648.3 892.7,647.1 912.8,652.4 914,662.5 898,664.8 877.4,668.4 873.8,661.3" fill="#fbfbfb"/>
<polygon points="860.8,686.7 877.4,686.1 879.7,694.9 870.3,702.6 856.7,702.6 853.7,693.2 856.1,687.3" fill="#fbfbfb"/>
<polygon points="898,664.8 914,662.5 914,654.2 921.1,647.1 929.4,653 932.9,669.5 921.1,671.9 921.1,688.4 912.8,690.8 901,691.4" fill="#fbfbfb"/>
<polygon points="921.1,671.9 932.9,669.5 935.3,668.4 943.5,683.7 948.3,687.3 942.3,695.5 940,704.4 911.6,704.4 912.8,690.8 921.1,688.4" fill="#f3bf9d"/>
<polygon points="893.9,694.4 912.8,690.8 911.6,704.4 906.9,720.4 896.9,721.5" fill="#fbfbfb"/>
<polygon points="856.7,702.6 870.3,702.6 872.6,723.3 874.4,736.9 852.5,736.9 850.2,727.4 856.1,713.3" fill="#fbfbfb"/>
<polygon points="911.6,704.4 940,704.4 938.8,718 935.8,735.7 916.4,734.5 916.4,744 895.1,744 893.9,728 906.3,727.4 906.9,720.4" fill="#fbfbfb" stroke="none"/>
<polygon points="872.6,723.3 883.3,723.9 885.6,738.1 874.4,744 874.4,736.9" fill="#fbfbfb"/>
<polygon points="865.5,593.7 890.9,594.3 895.6,593.1 899.2,596.6 898,603.7 890.9,606.1 890.9,620.3 864.3,620.3 866.7,609.6 867.3,599" fill="#fbfbfb"/>
<polygon points="864.3,620.3 890.9,620.3 891.5,647.4 863.7,647.4 863.1,642.7 863.7,630.9" fill="#f3bf9d"/>
<polygon points="890.9,606.1 898,603.7 902.7,601.4 924,607.3 921.6,626.2 908.6,625 892.1,621.4 890.9,620.3" fill="#fbfbfb"/>
<polygon points="908.6,577.7 927.5,587.8 931.1,586 925.2,606.1 924,607.3 902.7,601.4 907.4,594.3" fill="#fbfbfb"/>
<polygon points="931.1,586 935.8,586.6 960.6,590.7 950,609.6 945.3,615.5 925.2,614.4 925.2,606.1" fill="#fbfbfb"/>
<polygon points="945.3,563.5 948.8,562.4 978.3,570.6 960.6,590.7 935.8,586.6 938.2,577.7" fill="#fbfbfb"/>
<polygon points="960.6,590.7 963,591.9 971.3,609.6 964.2,619.1 961.8,622.6 950,609.6" fill="#fbfbfb"/>
<polygon points="978.3,570.6 986.5,583.8 984.3,595.5 989,600.2 970.7,614.4 971.3,609.6 963,591.9 960.6,590.7" fill="#fbfbfb"/>
<polygon points="921.6,626.2 924,607.3 925.2,614.4 937,616.7 937,628.5 933.4,636.8 921.6,641.5" fill="#fbfbfb"/>
<polygon points="945.3,632.1 965.3,626.2 970.1,635.6 977.2,652.2 957.1,661.6 953.5,653.4" fill="#fbfbfb"/>
<polygon points="875.5,648 891.5,647.4 914.5,653.4 913.4,664 873.8,664 872,654.5" fill="#fbfbfb" stroke="none"/>
<polygon points="1024.4,575.4 1032.7,567.1 1041,560 1087.1,560 1088.3,595.5 1071.7,603.1 1058.7,624.4 1043.4,612 1051.6,606.7 1052.8,593.7 1048.1,581.9" fill="#f3bf9d" stroke="none"/>
<polygon points="1046.9,570.6 1054,564.7 1062.3,563.5 1065.8,568.3 1062.3,575.4 1062.3,583.6 1063.4,594.3 1058.7,595.5 1051.6,591.9 1048.1,581.3" fill="#e96b49"/>
<polygon points="1004.4,597.8 1011.4,594.9 1016.2,601.4 1023.3,602.5 1025.6,613.2 1024.4,623.8 1020.9,628.5 1017.4,633.3 1013.8,629.7 1011.4,625 1012.6,616.7 1009.1,607.3" fill="#b4432a"/>
<polygon points="970.7,614.4 1004.4,599 1009.1,607.3 1009.1,613.2 989,623.8 976.6,629.1" fill="#f3bf9d"/>
<polygon points="993.7,560 1018.5,560 1017.4,567.1 1011.4,571.8 1004.4,571.2 999.6,576.5 997.3,571.8" fill="#f3bf9d" stroke="none"/>
<polygon points="1056.4,640.4 1061.1,629.7 1063.4,627.4 1081.2,642.7 1075.3,655.7 1055.2,642.7" fill="#f3bf9d"/>
<polygon points="961.7,610.3 970.8,612.6 977.6,630.7 973.1,637.5 962.9,623.9" fill="#fbfbfb"/>
</g>
<g fill="none" stroke="#6e6464" stroke-opacity=".5" stroke-width="1" stroke-linejoin="round">
<polyline points="1045.8,162.6 1056.9,160 1058.3,159.2"/>
<polyline points="1056.9,160 1094.5,168.5 1119.4,172.2"/>
<polyline points="1047.3,181 1082.7,186.9 1092.3,188.7"/>
<polyline points="1047.3,198 1083.5,204.9 1085.7,201"/>
<polyline points="1031.8,229.8 1063.5,226.5"/>
<polyline points="1119.6,172.2 1123.8,174.4 1144.5,173.6"/>
<polyline points="1109.3,174.4 1110,201.7"/>
<polyline points="1123.8,174.4 1120.4,201"/>
<polyline points="1090.1,198.7 1110,201.7 1146.2,202.4"/>
<polyline points="1085.7,201 1110,201.7 1111.5,215 1082,216.5"/>
<polyline points="1082,216.5 1087.9,228.3 1088.6,249.3"/>
<polyline points="1035.4,298.7 1049.4,305.8 1064.9,305.4"/>
<polyline points="1024.3,334.5 1045,325.6 1065.7,321.3"/>
<polyline points="959.1,365.8 944.3,385 962,394.6 965,415.3"/>
<polyline points="980.5,399 984.2,404.2 982.7,414.5 973.9,421.9 965,423.4"/>
<polyline points="984.2,404.2 994.5,402.7"/>
<polyline points="973.9,421.9 990.1,433"/>
<polyline points="940.6,364.3 959.1,365.8"/>
<polyline points="992.3,374.7 1000.4,382 1043.3,399.8 1066.9,404.2"/>
<polyline points="1043.3,399.8 1035.2,421.9 1004.9,408.6"/>
<polyline points="1012.3,357.7 1023.3,361.4 1032.9,354.3"/>
<polyline points="1075.5,356.6 1086.2,364.3 1102.7,355.4"/>
<polyline points="1072,365.5 1086.2,364.3 1114.5,369 1147.6,371.9"/>
<polyline points="1068.4,385.5 1081.4,382 1102.7,384.4"/>
<polyline points="1072,405.6 1081.4,396.2 1081.4,382"/>
<polyline points="1081.4,396.2 1086.2,412.7 1083.8,426.9"/>
<polyline points="1090.9,396.2 1088.5,412.7 1090.9,419.8"/>
<polyline points="1120.4,465.5 1132.3,464.9 1132.9,476.4 1136.4,479.7"/>
<polyline points="1112.2,475 1116.9,503.4 1138.8,495.7"/>
<polyline points="1116.9,503.4 1102.7,514"/>
<polyline points="1020,493.9 1039.5,485.6 1080.9,480.9"/>
<polyline points="1035.4,476.2 1039.5,485.6 1042.5,514"/>
<polyline points="1081.4,480.9 1084.4,514"/>
<polyline points="991,433.7 996.3,434.3 1024.1,447.3 1011.1,477.4 989.8,469.7"/>
<polyline points="991,433.7 991,461.4"/>
<polyline points="1004.6,410 996.3,434.3"/>
<polyline points="1004.6,410 1034.7,421.9 1043.6,400"/>
<polyline points="1025.3,444.9 1030,461.4 1035.3,475.6 1039.4,485.1 1040.6,504"/>
<polyline points="1005.8,495.7 1008.7,489.8 1013.4,494.5 1040.6,491"/>
<polyline points="971.1,544.4 968.7,568.6"/>
<polyline points="1037.3,480 1042,514.3 1045.5,522.5 1045.5,536.7"/>
<polyline points="1007.7,488.3 1013.6,494.8 1038.4,490.6"/>
<polyline points="990,490.6 1001.8,495.4 999.5,510.7 993.5,524.9 995.3,532"/>
<polyline points="1001.8,513.1 1008.9,517.8 1042,514.3"/>
<polyline points="1045.5,522.5 1086.9,517.2 1104.6,520.8"/>
<polyline points="1081.6,480 1084.5,495.4 1087.5,517.2"/>
<polyline points="1112.9,480 1117,504.2 1104,520.8 1094,535.5"/>
<polyline points="1117,504.2 1150,494.2"/>
<polyline points="1104,520.8 1117.6,548.5 1123.5,547.4 1142.4,558 1150,550.9"/>
<polyline points="1123.5,515.5 1136.5,514.3 1150,507.2"/>
<polyline points="1017.2,532 1020.7,545 1038.4,542.6 1034.9,539.1 1026.6,532"/>
<polyline points="999.5,547.4 1020.7,545"/>
<polyline points="1045.5,536.7 1056.2,533.2"/>
<polyline points="1008.9,517.8 1017.2,532"/>
<polyline points="1119.5,501.9 1157.9,494.8"/>
<polyline points="1139.6,513.7 1149.1,515.5 1157.9,514.7"/>
<polyline points="1133.7,531.4 1152.6,546.8 1157.9,544.4"/>
<polyline points="1145.5,574 1143.8,558.6 1152.6,546.8"/>
<polyline points="1117.2,594.3 1129,577.7"/>
<polyline points="1117.2,594.3 1120.7,626.2 1121.9,638"/>
<polyline points="1133.7,596.6 1137.3,621.4"/>
<polyline points="1166.2,584.8 1151.4,601.4 1137.3,621.4 1139.6,623.8"/>
<polyline points="1147.9,590.7 1151.4,601.4"/>
<polyline points="1090,590.7 1092.4,612 1100.6,617.9 1090,632.1"/>
<polyline points="1098.3,622.6 1120.7,638"/>
<polyline points="1090,647.4 1104.2,658.1"/>
<polyline points="930,655.4 933.5,667.2 957.2,661.3 952.5,648.3 951.3,640"/>
<polyline points="957.2,661.3 974.9,657.7 993.8,647.1 1000.9,642.4"/>
<polyline points="973.7,640 974.9,657.7"/>
<polyline points="993.8,647.1 1005.6,670.7 1018,667.8"/>
<polyline points="964.3,662.5 973.7,679.6"/>
<polyline points="933.5,667.2 944.2,688.4"/>
<polyline points="1018,699.1 1021,712.1 1024.5,725.7"/>
<polyline points="1061.2,674.3 1065.9,681.4"/>
<polyline points="1075.3,655.4 1086,661.3 1078.9,667.2"/>
<polyline points="951.3,715 966.6,710.9 976.7,708.5 987.9,706.2"/>
<polyline points="966.6,710.9 965.5,727.4 973.7,733.4"/>
<polyline points="937.1,735.7 961.9,729.8 965.5,727.4"/>
<polyline points="1061.2,798.6 1064.3,814.1 1062.7,825.7"/>
<polyline points="935.9,737.1 961.9,734.7 973.7,732.4"/>
<polyline points="961.9,734.7 960.7,745.4 961.9,752.5 947.7,761.9"/>
<polyline points="961.9,752.5 976.1,751.3"/>
<polyline points="935.9,737.1 935.9,759.5 947.7,761.9"/>
<polyline points="969,763.1 976.1,751.3"/>
<polyline points="973.7,774.9 970.8,782"/>
<polyline points="851.9,735.9 854.9,738.3 873.8,735.9"/>
<polyline points="851.4,745.4 869.1,747.7 876.2,747.7"/>
<polyline points="837.8,760.7 871.4,761.9"/>
<polyline points="832.5,782 850.2,784.4 875.6,783.2"/>
<polyline points="850.2,784.4 850.2,810.4"/>
<polyline points="902.2,799.7 912.8,796.2 920.5,799.7"/>
<polyline points="901,764.3 901,777.3 905.7,784.4"/>
<polyline points="910.4,746.5 910.4,752.5 901,764.3"/>
<polyline points="916.4,751.3 901,753.6"/>
<polyline points="873.8,730 873.8,735.9 876.2,747.7"/>
<polyline points="914,662.5 916.4,671.3 921.1,671.9"/>
<polyline points="893.9,728 911.6,727.4 911.6,733.4 916.4,734.5"/>
<polyline points="858.4,674.3 876.2,675.5 898,671.9"/>
<polyline points="877.4,686.1 879.7,694.9 901,691.4"/>
<polyline points="870.3,702.6 872.6,723.3 883.3,723.9 906.9,720.9"/>
<polyline points="879.7,694.9 893.9,694.4 896.9,721.5"/>
<polyline points="883.3,723.9 885.6,738.1"/>
<polyline points="878.5,568.9 905.1,573 908.6,577.7"/>
<polyline points="892.1,621.4 908.6,625 921.6,626.2"/>
<polyline points="921.6,641.5 914.5,653.4"/>
<polyline points="937,628.5 945.3,632.1"/>
<polyline points="961.8,622.6 965.3,626.2"/>
<polyline points="929.9,653.4 933.4,636.8"/>
<polyline points="953.5,653.4 955.9,664"/>
<polyline points="905.1,573 912.2,579.5 926.4,585.4 931.1,586"/>
<polyline points="1009.1,588.4 1023.3,575.4 1032.7,567.1"/>
<polyline points="985.5,583.6 992.5,581.3 1004.4,580.1 1009.1,588.4 1011.4,594.9"/>
<polyline points="1025.6,606.1 1035.1,602.5 1043.4,612 1032.7,616.7 1025.6,613.2"/>
<polyline points="1020.9,635.6 1056.4,624.4 1058.7,624.4"/>
<polyline points="1058.7,624.4 1081.2,642.7 1110,654.5"/>
<polyline points="1100.1,617.9 1081.2,642.7"/>
<polyline points="1088.3,595.5 1091.8,610.8 1100.1,617.9 1110,609.6"/>
<polyline points="976.6,629.1 981.9,630.9 981.9,649.8 999.6,641.5 1017.4,633.3"/>
<polyline points="999.6,641.5 1011.4,647.4"/>
<polyline points="961.8,590.7 970.7,614.4 961.8,617.9 964.2,623.8 976.6,629.1"/>
<polyline points="950,628.5 964.2,623.8"/>
<polyline points="967.7,626.2 976,649.8 983.1,662.8"/>
<polyline points="985.5,583.6 984.3,595.5 989,600.2 1004.4,599"/>
<polyline points="1052.4,158.9 1058.3,159.2 1063.5,148.5"/>
<polyline points="1069.4,146.3 1091.6,151.5 1092.3,149.3 1119.6,154 1119.4,158.4 1119.6,172.2 1109.3,174.4 1094.5,173.6 1090.1,198.7 1085.7,201 1082,216.5 1063.5,226.8 1069.4,263.7 1053.9,268.2 1039.9,266.7 1035.5,264.5 1031.8,259.3 1026.6,244.5 1025.1,237.1 1031.8,229.8 1036.9,223.9 1036.2,215 1042.8,203.2 1047.3,198 1051.7,192.8 1051,187.7 1047.3,181.8 1048.7,179.5 1048.7,166.2 1045.8,162.6 1051.7,158.9 1052.4,158.9"/>
<polyline points="959.8,357.7 959.8,360.6 975.3,369.5 990.1,376.9 1000.4,382 994.5,402.7 1004.9,408.6 997.5,432.3 990.1,433 987.1,450"/>
<polyline points="958.3,450 965,423.4 965,415.3 939.1,411.6 934.7,399.8 936.9,390.9 939.9,380.6 937.7,374.7 940.6,368.7 940.6,362.8 944.3,359.9 951.7,357.7 959.8,357.7"/>
<polyline points="939.1,411.6 965,415.3 965,423.4 958.3,450"/>
<polyline points="929.5,450 934,436.7 937.7,426.4 936.9,417.5 939.1,411.6"/>
<polyline points="1065.5,353.6 1072,352.5 1072.6,357.2 1075.5,356.6 1076.1,353 1101.5,353 1102.1,355.4 1153.5,355.4 1154.1,371.4 1147.6,371.9 1147.6,385.5 1135.2,386.1 1102.7,384.4 1095.6,396.2 1095.6,412.7 1090.9,419.8 1090.9,428.1 1086.2,434"/>
<polyline points="1055.5,434 1069.6,423.4 1072,412.7 1068.4,405.6 1067.9,383.8 1067.3,369 1065.5,353.6"/>
<polyline points="1135.8,386.1 1147.6,385.5 1147.6,371.9 1154.1,371.4 1155.3,434"/>
<polyline points="1135.8,434 1135.8,386.1"/>
<polyline points="1092.1,410 1092.1,417.1 1090.9,431.3 1081.4,439.5 1076.7,448.4 1075.5,455.5 1031.8,462.6 1026.5,446.6 1030,445.5 1043,452.8 1053.7,444.9 1055.5,431.9 1070.8,424.2 1072,410"/>
<polyline points="914.9,553.3 942.7,567.4 935.6,584"/>
<polyline points="909.6,584 904.9,573.4 912,555.6 914.9,553.3"/>
<polyline points="981.7,550.9 999.4,547.4 1000.6,562.7 997.1,569.8 992.3,584"/>
<polyline points="987.6,584 979.4,567.4 973.4,571 981.7,550.9"/>
<polyline points="942.7,567.4 947.4,562.7 973.4,571 979.4,567.4 987.6,584"/>
<polyline points="935.6,584 942.7,567.4"/>
<polyline points="868.3,576.9 879.5,570.4 904.9,573.4 909.6,584"/>
<polyline points="868.9,584 868.3,576.9"/>
<polyline points="1024.3,573.4 1038.4,560.4 1051.4,546.2 1059.7,544.4 1065.6,544.4 1072.7,552.1 1083.4,561.5 1086.9,584"/>
<polyline points="1062.1,584 1063.3,574.5 1065.6,567.4 1056.2,563.9 1045.5,572.2 1047.9,584 1042,580.4 1024.3,573.4"/>
<polyline points="1157.4,634.4 1160.9,641.5 1168,647.4 1171.5,646.9 1175.1,653.4 1177.4,658.1 1178.6,664"/>
<polyline points="1151.4,664 1142,654.5 1157.4,634.4"/>
<polyline points="1122.5,640.4 1142,654.5 1151.4,664"/>
<polyline points="1104.2,664 1112.5,653.4 1122.5,640.4"/>
<polyline points="1160.9,640 1168,647.1 1171.5,646.5 1175.1,653 1177.4,657.7 1184.5,664.8 1171.5,669 1165.6,675.5 1151.4,664.8 1143.2,655.4 1153.8,640"/>
<polyline points="1090,716.8 1104.2,715.6 1113.6,719.2 1127.8,722.7 1129,735.7 1127.8,744"/>
<polyline points="1205.8,729.8 1211.7,721.5 1215.3,729.8 1214.1,738.1 1212.9,744"/>
<polyline points="1201.1,744 1199.9,736.9 1205.8,729.8"/>
<polyline points="1074.2,679 1078.9,667.2 1090,668.4"/>
<polyline points="1090,689.6 1075.3,692 1074.2,679"/>
<polyline points="1052.9,680.2 1065.9,681.4 1074.2,679 1075.3,692 1090,689.6"/>
<polyline points="1090,706.2 1082.4,713.3 1057.6,708.5 1057.6,706.2 1056.4,690.8 1052.9,680.2"/>
<polyline points="1024.5,725.7 1049.4,720.4 1050.5,735.7 1048.2,744"/>
<polyline points="1025.7,744 1022.2,733.4 1024.5,725.7"/>
<polyline points="997.9,736.3 1022.2,733.9 1025.7,744"/>
<polyline points="999.7,744 997.9,736.3"/>
<polyline points="1011.5,645.9 1017.4,640"/>
<polyline points="1036.4,640 1043.4,647.1 1044.6,655.4 1018,667.8 1015.1,657.7 1011.5,645.9"/>
<polyline points="1048.2,661.3 1044.6,655.4 1047,647.1 1055.3,640"/>
<polyline points="1081.3,640 1075.3,655.4 1061.2,674.3 1058.2,671.9 1048.2,661.3"/>
<polyline points="930,673.1 937.1,674.3 944.2,688.4 947.7,707.4 939.5,703.8 930,703.8"/>
<polyline points="930,703.8 939.5,703.8 939.5,718 937.1,735.7 930,735.7"/>
<polyline points="973.7,733.4 992.6,735.7 997.9,736.3 999.7,744"/>
<polyline points="973.7,744 973.7,733.4"/>
<polyline points="1082.9,713.3 1087.5,699.3 1092.2,690"/>
<polyline points="1112.4,690 1149.6,694.7 1143.4,710.2 1141.8,719.5 1129.4,719.5 1089.1,716.4 1079.8,713.3 1082.9,713.3"/>
<polyline points="1103.1,784.6 1115.5,786.2 1118.6,798.6 1117,814.1 1104.6,814.1 1096.9,826.5"/>
<polyline points="1087.5,826.5 1087.5,807.9 1103.1,807.9 1103.1,784.6"/>
<polyline points="1090,769 1037.5,769 1035.2,757.8 1024.5,758.4 1023.9,735.3 1023.9,730"/>
<polyline points="930,780.8 947.7,780.8 952.5,787.9 953,801.5 930,800.9"/>
<polyline points="930,800.9 959.5,801.5 960.7,822.8 930,821.9"/>
<polyline points="1039.9,796.2 1055.3,799.7 1077.7,799.7 1090,806.8"/>
<polyline points="1090,826.3 1043.4,825.1 1045.8,805.6 1039.9,796.2"/>
<polyline points="930,752.5 947.7,761.9 948.3,764.3 948.9,777.3 947.7,780.8 930,780.8"/>
<polyline points="873.8,730 873.8,735.9 851.9,735.9 850.2,730"/>
<polyline points="929.4,800.9 951.8,799.7 970,800.9"/>
<polyline points="970,823.4 931.7,822.2 929.4,800.9"/>
<polyline points="891.5,640 892.7,647.1 873.8,648.3 864.4,646.5 864.4,640"/>
<polyline points="911.6,704.4 940,704.4 938.8,718 935.8,735.7 916.4,734.5 916.4,744"/>
<polyline points="895.1,744 893.9,728 906.3,727.4 906.9,720.4 911.6,704.4"/>
<polyline points="875.5,648 891.5,647.4 914.5,653.4 913.4,664"/>
<polyline points="873.8,664 872,654.5 875.5,648"/>
<polyline points="1024.4,575.4 1032.7,567.1 1041,560"/>
<polyline points="1087.1,560 1088.3,595.5 1071.7,603.1 1058.7,624.4 1043.4,612 1051.6,606.7 1052.8,593.7 1048.1,581.9 1024.4,575.4"/>
<polyline points="1018.5,560 1017.4,567.1 1011.4,571.8 1004.4,571.2 999.6,576.5 997.3,571.8 993.7,560"/>
<polygon points="1138.1,72.6 1143.3,154.5 1143.3,158.4 1144.5,173.6 1145.9,202.4 1147,213.5 1148.4,247.5 1150.4,277 1149.9,278.1 1152.1,327.5 1152.5,355.2 1153.5,355.4 1154.1,371.4 1155.3,434 1154.7,432.5 1157.1,476.2 1157.7,492.7 1157.9,496 1159.1,529.1 1160.3,545.6 1160.9,574 1161.5,577.7 1166.2,584.8 1163.9,589.5 1165,595.5 1161.5,606.1 1164.4,608.4 1164.4,616.7 1158.5,625 1158.5,633.3 1160.9,641.5 1168,647.4 1171.5,646.9 1175.1,653.4 1177.4,658.1 1177.4,657.7 1184.5,664.8 1190.4,670.7 1194,673.1 1196.4,676.6 1192.8,686.1 1191.6,699.1 1192.8,704.4 1201.1,713.3 1211.7,721.5 1217,720.4 1217.6,727.4 1215.3,729.8 1216.3,727.2 1214.7,733.4 1210.1,741.2 1202.3,752 1198.4,764.4 1193,778.4 1188.4,781.5 1179.1,778.4 1172.9,774.5 1154.2,779.2 1149.6,781.5 1144.9,789.3 1141.8,797 1127.9,792.4 1118.6,798.6 1117,814.1 1104.6,814.1 1096.9,826.5 1043.4,825.1 989.1,823.9 960.7,822.8 931.7,822.2 904.5,821 880.9,820.4 853.7,818.6 850.2,810.4 841.9,805.6 838.4,798.5 833.6,791.4 832.5,782 834.8,772.5 839.5,766.6 837.8,760.7 838.4,750.1 851.4,745.4 854.9,738.3 851.9,735.9 850.2,730 850.2,727.4 856.1,713.3 856.7,702.6 853.7,693.2 856.1,687.3 858.4,674.3 862,662.5 864.4,651.8 863.2,647.1 864.4,640 863.1,642.7 863.7,630.9 864.3,620.3 866.7,609.6 867.3,599 865.5,593.7 867.9,583.6 869.6,575.4 878.5,568.3 879.5,570.4 878.3,566.3 879.5,561.5 884.8,558 884.2,543.2 890.1,533.2 905.5,520.8 904.9,516.6 909,510.7 908.4,495.4 912,491.8 912,488.3 911.8,488 921.3,479.2 923,469.7 927.2,467.4 923.6,455.5 928.4,448.4 931.3,446.1 934.3,437.8 940.2,428.4 936.6,423.6 939,415.4 940.2,410 939.1,411.6 934.7,399.8 936.9,390.9 939.9,380.6 937.7,374.7 940.6,368.7 940.6,362.8 944.3,359.9 951.7,357.7 959.8,357.7 967.2,354.7 976.8,356.2 988.6,344.4 994.5,337 1000.4,338.5 1018.2,327.4 1019.9,322.4 1024.3,319.4 1036.1,312 1033.2,307.6 1035.4,298.7 1032.4,292.1 1038.3,286.2 1040.6,279.5 1039.8,267 1036.1,264.8 1031.7,255.9 1031.8,259.3 1026.6,244.5 1025.1,237.1 1031.8,229.8 1036.9,223.9 1036.2,215 1042.8,203.2 1047.3,198 1051.7,192.8 1051,187.7 1047.3,181.8 1048.7,179.5 1048.7,166.2 1045.8,162.6 1051.7,158.9 1052.4,159 1053.9,152.3 1051,148.6 1051,144.9 1056.9,139.8 1059.8,133.9 1065.7,127.2 1065,122 1070.6,108.7 1072.4,99.9 1064.7,93.2 1070.9,91.3 1075.3,93.7 1081.2,88.8 1081.2,83.6 1088.6,80.7 1096.8,73.6 1100.4,76.2 1103.4,83.6 1108.6,88.8 1113.7,88.1 1118.2,91 1121.1,89.5 1127.8,91.3 1133.7,79.2" stroke="#8a8686" stroke-opacity=".45"/>
</g>
<g font-family="Liberation Sans, sans-serif" font-size="9" letter-spacing="-.4" fill="#151515" stroke="#151515" stroke-width=".18" text-anchor="middle">
<text x="1089" y="117.2">Pittsburg</text>
<text x="1112" y="172.2">Atkinson and Gilmanton Academy Grant</text>
<text x="1123" y="192.2">Second College Grant</text>
<text x="1120" y="212.2">Wentworth Location</text>
<text x="1078" y="226.2">Ervings Grant</text>
<text x="1126" y="237.2">Errol</text>
<text x="1076" y="243.2">Odell</text>
<text x="1040" y="256.2">Stratford</text>
<text x="1130" y="267.2">Cambridge</text>
<text x="1040" y="290.2">Northumberland</text>
<text x="1104" y="295.2">Milan</text>
<text x="1135" y="312.2">Success</text>
<text x="1031" y="317.2">Lancaster</text>
<text x="1097" y="317.2">Berlin</text>
<text x="1087" y="345.2">Randolph</text>
<text x="1134" y="345.2">Shelburne</text>
<text x="977" y="352.2">Littleton</text>
<text x="977" y="363.2">6</text>
<text x="1028" y="351.2">Whitefield</text>
<text x="1084" y="371.2">Thompson and Meserves Purchase</text>
<text x="1072" y="382.2">Chandlers Purchase</text>
<text x="941" y="380.2">Monroe</text>
<text x="1085" y="395.2">Sargents Purchase</text>
<text x="970" y="392.2">Lisbon</text>
<text x="1112" y="406.2">Jackson</text>
<text x="1012" y="406.2">Franconia</text>
<text x="969" y="411.2">Landaff</text>
<text x="1080" y="422.2">Hadleys Purchase</text>
<text x="1104" y="427.2">Bartlett</text>
<text x="1106" y="439.2">5</text>
<text x="988" y="425.2">Easton</text>
<text x="1055" y="439.9">Livermore</text>
<text x="938" y="436.2">Haverhill</text>
<text x="1136" y="453.2">Conway</text>
<text x="1138" y="465.2">9</text>
<text x="995" y="458.2">Woodstock</text>
<text x="933" y="465.2">Piermont</text>
<text x="969" y="474.2">Warren</text>
<text x="1049" y="474.2">Waterville Valley</text>
<text x="955" y="492.2">Wentworth</text>
<text x="1092" y="496.2">Tamworth</text>
<text x="1013" y="507.2">Campton</text>
<text x="1135" y="512.2">Freedom</text>
<text x="946" y="525.2">Dorchester</text>
<text x="1143" y="530.2">Effingham</text>
<text x="1027" y="531.2">Holderness</text>
<text x="902" y="531.2">Hanover</text>
<text x="905" y="543.2">15</text>
<text x="1074" y="545.2">Moultonborough</text>
<text x="888" y="557.2">Lebanon</text>
<text x="891" y="569.2">17</text>
<text x="1004.8" y="557.7">Bridgewater</text>
<text x="962" y="561.2">Orange</text>
<text x="1054" y="560.2">Meredith</text>
<text x="1057" y="571.2">6</text>
<text x="1093" y="560.2">Tuftonboro</text>
<text x="1004" y="564.2">Bristol</text>
<text x="1006" y="575.2">8</text>
<text x="1115" y="566.2">Wolfeboro</text>
<text x="1117" y="578.2">6</text>
<text x="949" y="582.2">Grafton</text>
<text x="1073" y="583.2">Gilford</text>
<text x="1075" y="595.2">8</text>
<text x="932" y="603.2">Springfield</text>
<text x="1049" y="605.2">Belmont</text>
<text x="1051" y="617.2">8</text>
<text x="1120" y="608.2">New Durham</text>
<text x="987" y="612.2">Andover</text>
<text x="990" y="624.2">6</text>
<text x="906" y="615.2">Croydon</text>
<text x="870" y="636.2">Claremont</text>
<text x="874" y="648.2">7</text>
<text x="925" y="635.2">Sunapee</text>
<text x="1135" y="632.2">Farmington</text>
<text x="1138" y="644.2">11</text>
<text x="1019" y="645.2">Boscawen</text>
<text x="1022" y="656.2">6</text>
<text x="936.5" y="651.8">Newbury</text>
<text x="1060" y="649.7">Loudon</text>
<text x="1062.5" y="661">9</text>
<text x="978" y="658.2">Warner</text>
<text x="1120" y="660.2">Strafford</text>
<text x="1123" y="671.2">5</text>
<text x="1175" y="665.2">Somersworth</text>
<text x="1179" y="676.2">23</text>
<text x="860" y="673.2">Charlestown</text>
<text x="948" y="677.2">Bradford</text>
<text x="884" y="685.2">Acworth</text>
<text x="1007" y="683.2">Hopkinton</text>
<text x="1011" y="695.2">5</text>
<text x="1055" y="686.2">Pembroke</text>
<text x="1072" y="697.2">Allenstown</text>
<text x="1076.5" y="709.7">15</text>
<text x="865" y="700.2">Langdon</text>
<text x="953" y="696">Hillsborough</text>
<text x="957" y="707.2">12</text>
<text x="1120.2" y="704.7">Nottingham</text>
<text x="1124" y="716.2">5</text>
<text x="1174" y="707.2">Durham</text>
<text x="1176" y="719.2">28</text>
<text x="857" y="718.2">Walpole</text>
<text x="1002" y="721.2">Weare</text>
<text x="1004" y="732.2">24</text>
<text x="1109" y="729.7">Raymond</text>
<text x="1112" y="740.2">32</text>
<text x="950" y="732.2">Antrim</text>
<text x="899.5" y="741.8">Sullivan</text>
<text x="1057" y="746.2">Manchester</text>
<text x="1058" y="757.2">1,155</text>
<text x="1186" y="743.2">North Hampton</text>
<text x="850.5" y="753.2">Westmoreland</text>
<text x="888" y="754.7">Keene</text>
<text x="889" y="765.2">10</text>
<text x="1188.5" y="756.4">Hampton</text>
<text x="1191" y="759.2">14</text>
<text x="925" y="762.2">Harrisville</text>
<text x="970" y="763.2">Greenfield</text>
<text x="1172" y="762.2">Hampton Falls</text>
<text x="989.5" y="769.7">Lyndeborough</text>
<text x="994" y="780.7">6</text>
<text x="1183" y="771.2">Seabrook</text>
<text x="1185" y="782.2">46</text>
<text x="1068" y="772.2">Londonderry</text>
<text x="1073" y="784.2">142</text>
<text x="931" y="775.2">Dublin</text>
<text x="1117" y="775.2">Hampstead</text>
<text x="1119" y="785.2">42</text>
<text x="845" y="781.2">Chesterfield</text>
<text x="885" y="781.2">Swanzey</text>
<text x="887" y="792.2">7</text>
<text x="1059" y="783.7">Litchfield</text>
<text x="1060" y="794.2">27</text>
<text x="929" y="787.2">Jaffrey</text>
<text x="931" y="799.2">7</text>
<text x="1089" y="791.2">Windham</text>
<text x="1091" y="803.2">38</text>
<text x="839" y="797.2">Hinsdale</text>
<text x="995" y="816.2">Mason</text>
</g>
</svg>
<!--/MAP-->
<!--TOOLBAR-->
<div id="toolbar" class="abs"></div>
<svg class="abs" style="left:17px;top:852px" width="20" height="18" viewBox="0 0 20 18" fill="none" stroke="#666" stroke-width="1.4" stroke-linecap="round" stroke-linejoin="round"><path d="M17 9H2M8 2.5L1.8 9l6.2 6.5"/></svg>
<div class="abs tb" style="left:48px">Undo</div>
<svg class="abs" style="left:104px;top:852px" width="20" height="18" viewBox="0 0 20 18" fill="none" stroke="#c4c4c4" stroke-width="1.4" stroke-linecap="round" stroke-linejoin="round"><path d="M2 9h15M11 2.5L17.2 9 11 15.5"/></svg>
<div class="abs tb dim" style="left:136px">Redo</div>
<svg class="abs" style="left:191px;top:852px" width="20" height="18" viewBox="0 0 20 18" fill="none" stroke="#666" stroke-width="1.4" stroke-linecap="round" stroke-linejoin="round"><path d="M2 1.5v15M18 9H5.5M11 3L5 9l6 6"/></svg>
<div class="abs tb" style="left:223px">Revert</div>
<svg class="abs" style="left:286px;top:850px" width="22" height="22" viewBox="0 0 22 22" fill="none" stroke="#666" stroke-width="1.4" stroke-linecap="round" stroke-linejoin="round"><ellipse cx="8" cy="4.5" rx="6" ry="2.6"/><path d="M2 4.5v11.5c0 1.5 2.6 2.6 5 2.6M14 4.5v5"/><path d="M11 15.5a3.6 3.6 0 0 1 6.5-1.5M18 17a3.6 3.6 0 0 1-6.5 1.5M17.8 11.8v2.4h-2.4M11.2 20.8v-2.4h2.4"/></svg>
<div class="abs tb" style="left:318px">Refresh</div>
<svg class="abs" style="left:390px;top:850px" width="22" height="22" viewBox="0 0 22 22" fill="none" stroke="#666" stroke-width="1.4" stroke-linecap="round" stroke-linejoin="round"><ellipse cx="8" cy="4.5" rx="6" ry="2.6"/><path d="M2 4.5v11.5c0 1.5 2.6 2.6 5 2.6M14 4.5v5"/><path d="M12.5 13v8M16.5 13v8" stroke-width="2"/></svg>
<div class="abs tb" style="left:422px">Pause</div>
<svg class="abs" style="left:1030px;top:850px" width="24" height="24" viewBox="0 0 24 24" fill="none" stroke="#666" stroke-width="1.4" stroke-linecap="round" stroke-linejoin="round"><circle cx="5" cy="11.5" r="3"/><circle cx="16.5" cy="4.5" r="3"/><circle cx="16.5" cy="18.5" r="3"/><path d="M7.6 10l6.3-4M7.6 13l6.3 4"/></svg>
<div class="abs tb" style="left:1064px">Share</div>
<svg class="abs" style="left:1122px;top:850px" width="24" height="24" viewBox="0 0 24 24" fill="none" stroke="#666" stroke-width="1.4" stroke-linecap="round" stroke-linejoin="round"><path d="M8 13.5H2.5v-11h17v11H14M11 7v11.5M7.5 15.5l3.5 3.5 3.5-3.5"/></svg>
<div class="abs tb" style="left:1156px">Download</div>
<svg class="abs" style="left:1239px;top:851px" width="24" height="22" viewBox="0 0 24 22" fill="none" stroke="#666" stroke-width="1.4" stroke-linecap="round" stroke-linejoin="round"><rect x="5" y="6" width="13" height="9"/><path d="M1.5 5.5v-3h4M17.5 2.5h4v3M21.5 15.5v3h-4M5.5 18.5h-4v-3"/></svg>
<div class="abs tb" style="left:1273px">Full Screen</div>
<!--/TOOLBAR-->
</body>
</html>
